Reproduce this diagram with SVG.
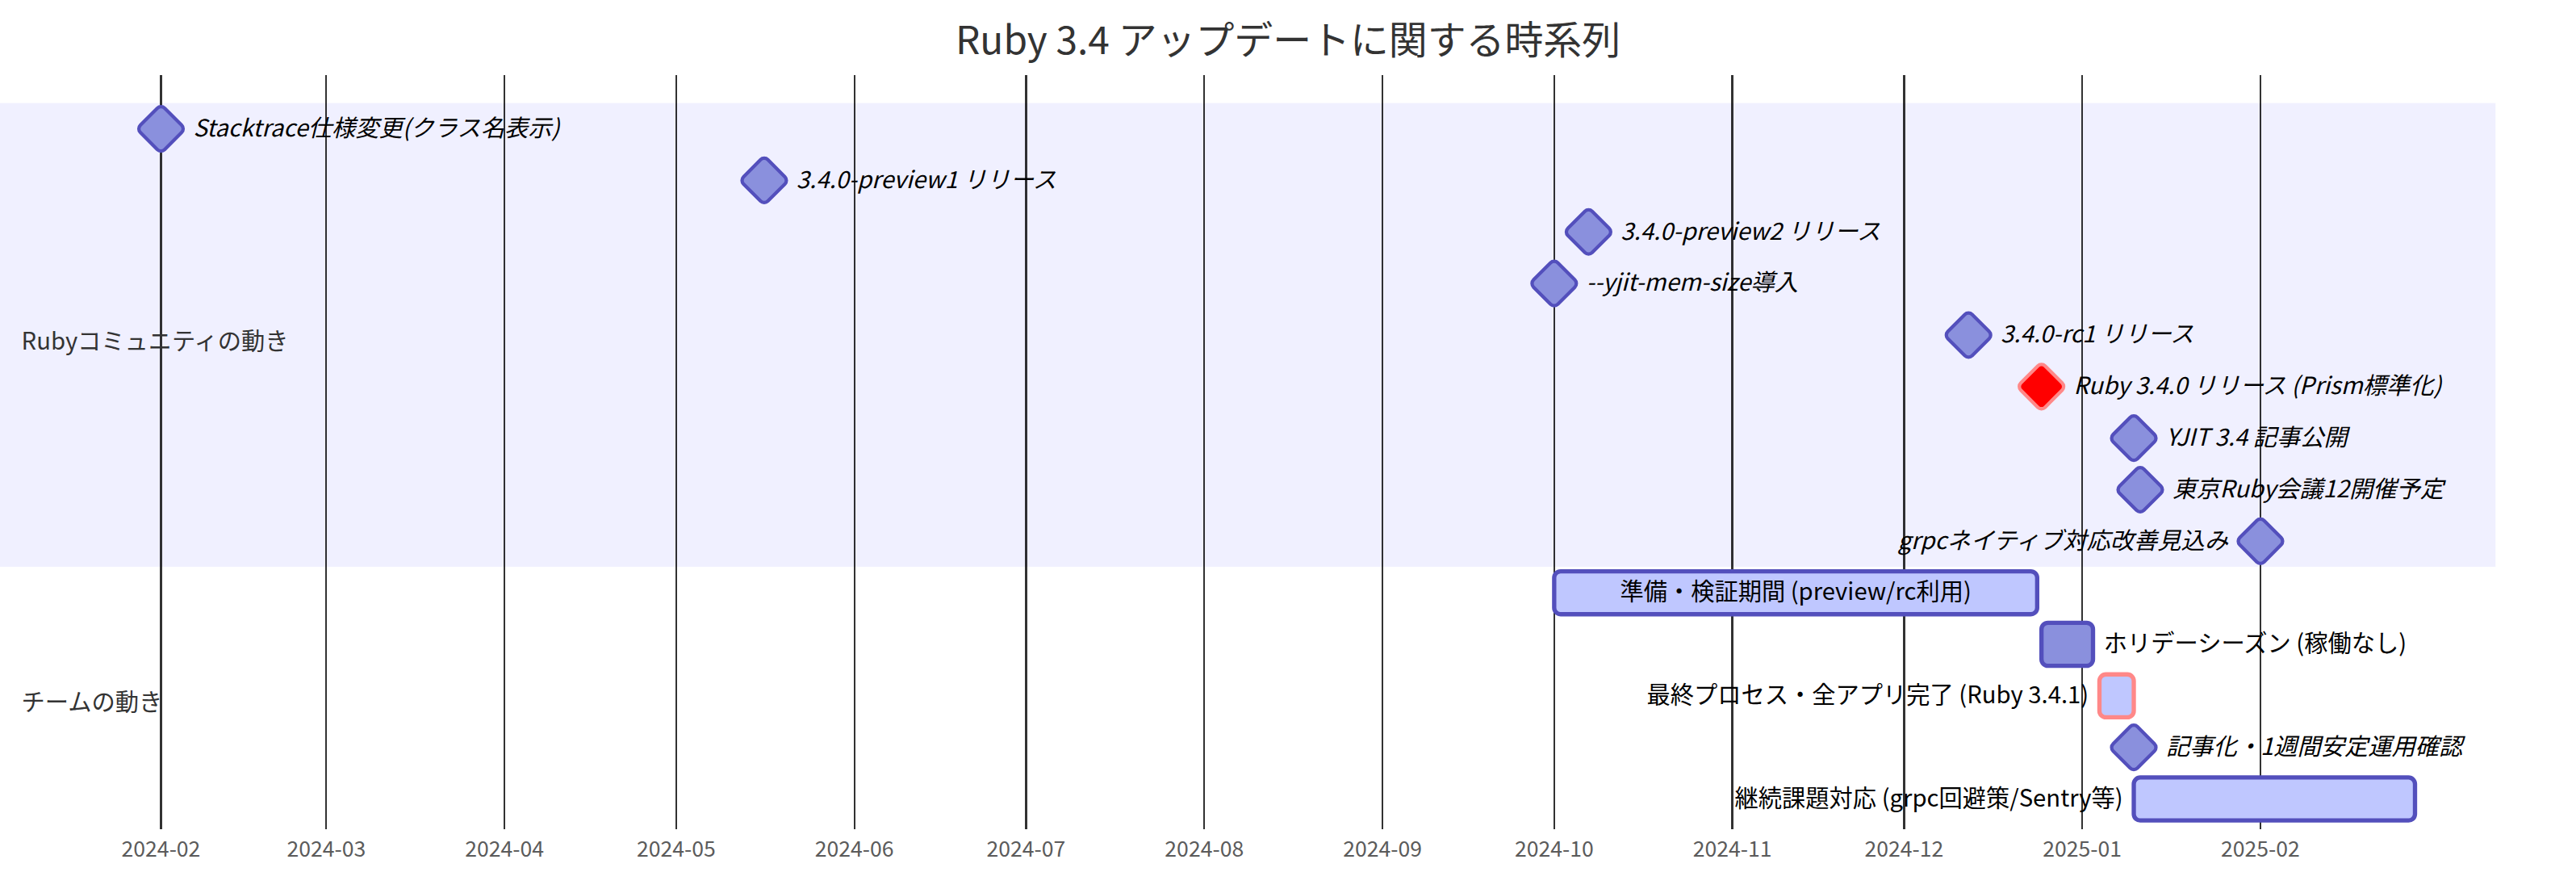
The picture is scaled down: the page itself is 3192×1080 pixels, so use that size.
<svg xmlns="http://www.w3.org/2000/svg" width="3192" height="1080" viewBox="0 0 3192 1080">
<style>
text { font-family: "Noto Sans CJK JP", "Noto Sans", sans-serif; }
.titleText { font-size: 18px; fill: #333; text-anchor: middle; }
.sectionTitle { font-size: 11px; fill: #333; dominant-baseline: central; }
.ticks { opacity: 0.8; }
.ticks line { stroke: #000; stroke-width: 0.85; shape-rendering: crispEdges; }
.ticks text { font-size: 10px; fill: #333; text-anchor: middle; }
.task { stroke-width: 2; }
.normal { fill: #8a90dd; stroke: #534fbc; }
.active { fill: #bfc7ff; stroke: #534fbc; }
.crit { fill: #ff0000; stroke: #ff8888; }
.activeCrit { fill: #bfc7ff; stroke: #ff8888; }
.taskText { font-size: 11px; fill: #000; }
.ms { font-style: italic; }
.start { text-anchor: start; }
.end { text-anchor: end; }
.mid { text-anchor: middle; }
</style>
<defs>
<rect id="diamond" x="-10" y="-10" width="20" height="20" rx="3" ry="3"/>
</defs>
<rect x="0" y="0" width="3192" height="1080" fill="#ffffff"/>
<g transform="scale(2.66)">
  <g id="sections">
    <rect x="0" y="48" width="1162.5" height="216" fill="#f0f0ff"/>
    <rect x="0" y="264" width="1162.5" height="120" fill="#ffffff"/>
  </g>
  <g id="grid" class="ticks">
    <line x1="75" y1="35" x2="75" y2="386"/><text x="75" y="399">2024-02</text>
    <line x1="152" y1="35" x2="152" y2="386"/><text x="152" y="399">2024-03</text>
    <line x1="235" y1="35" x2="235" y2="386"/><text x="235" y="399">2024-04</text>
    <line x1="315" y1="35" x2="315" y2="386"/><text x="315" y="399">2024-05</text>
    <line x1="398" y1="35" x2="398" y2="386"/><text x="398" y="399">2024-06</text>
    <line x1="478" y1="35" x2="478" y2="386"/><text x="478" y="399">2024-07</text>
    <line x1="561" y1="35" x2="561" y2="386"/><text x="561" y="399">2024-08</text>
    <line x1="644" y1="35" x2="644" y2="386"/><text x="644" y="399">2024-09</text>
    <line x1="724" y1="35" x2="724" y2="386"/><text x="724" y="399">2024-10</text>
    <line x1="807" y1="35" x2="807" y2="386"/><text x="807" y="399">2024-11</text>
    <line x1="887" y1="35" x2="887" y2="386"/><text x="887" y="399">2024-12</text>
    <line x1="970" y1="35" x2="970" y2="386"/><text x="970" y="399">2025-01</text>
    <line x1="1053" y1="35" x2="1053" y2="386"/><text x="1053" y="399">2025-02</text>
  </g>
  <g id="connectors"></g>
  <g id="task-stacktrace">
    <use href="#diamond" class="task normal" transform="translate(75,60) rotate(45) scale(0.8)"/>
    <text class="taskText ms start" x="90" y="63.5">Stacktrace仕様変更(クラス名表示)</text>
  </g>
  <g id="task-preview1">
    <use href="#diamond" class="task normal" transform="translate(356,84) rotate(45) scale(0.8)"/>
    <text class="taskText ms start" x="371" y="87.5">3.4.0-preview1 リリース</text>
  </g>
  <g id="task-preview2">
    <use href="#diamond" class="task normal" transform="translate(740,108) rotate(45) scale(0.8)"/>
    <text class="taskText ms start" x="755" y="111.5">3.4.0-preview2 リリース</text>
  </g>
  <g id="task-yjit-mem">
    <use href="#diamond" class="task normal" transform="translate(724,132) rotate(45) scale(0.8)"/>
    <text class="taskText ms start" x="739" y="135.5">--yjit-mem-size導入</text>
  </g>
  <g id="task-rc1">
    <use href="#diamond" class="task normal" transform="translate(917,156) rotate(45) scale(0.8)"/>
    <text class="taskText ms start" x="932" y="159.5">3.4.0-rc1 リリース</text>
  </g>
  <g id="task-ruby340">
    <use href="#diamond" class="task crit" transform="translate(951,180) rotate(45) scale(0.8)"/>
    <text class="taskText ms start" x="966" y="183.5">Ruby 3.4.0 リリース (Prism標準化)</text>
  </g>
  <g id="task-yjit34">
    <use href="#diamond" class="task normal" transform="translate(994,204) rotate(45) scale(0.8)"/>
    <text class="taskText ms start" x="1009" y="207.5">YJIT 3.4 記事公開</text>
  </g>
  <g id="task-tokyorubykaigi">
    <use href="#diamond" class="task normal" transform="translate(997,228) rotate(45) scale(0.8)"/>
    <text class="taskText ms start" x="1012" y="231.5">東京Ruby会議12開催予定</text>
  </g>
  <g id="task-grpc">
    <use href="#diamond" class="task normal" transform="translate(1053,252) rotate(45) scale(0.8)"/>
    <text class="taskText ms end" x="1038" y="255.5">grpcネイティブ対応改善見込み</text>
  </g>
  <g id="task-prep">
    <rect class="task active" x="724" y="266" width="225" height="20" rx="3" ry="3"/>
    <text class="taskText mid" x="836.5" y="279.5">準備・検証期間 (preview/rc利用)</text>
  </g>
  <g id="task-holiday">
    <rect class="task normal" x="951" y="290" width="24" height="20" rx="3" ry="3"/>
    <text class="taskText start" x="980" y="303.5">ホリデーシーズン (稼働なし)</text>
  </g>
  <g id="task-final">
    <rect class="task activeCrit" x="978" y="314" width="16" height="20" rx="3" ry="3"/>
    <text class="taskText end" x="973" y="327.5">最終プロセス・全アプリ完了 (Ruby 3.4.1)</text>
  </g>
  <g id="task-article">
    <use href="#diamond" class="task normal" transform="translate(994,348) rotate(45) scale(0.8)"/>
    <text class="taskText ms start" x="1009" y="351.5">記事化・1週間安定運用確認</text>
  </g>
  <g id="task-followup">
    <rect class="task active" x="994" y="362" width="131" height="20" rx="3" ry="3"/>
    <text class="taskText end" x="989" y="375.5">継続課題対応 (grpc回避策/Sentry等)</text>
  </g>
  <g id="section-titles">
    <text class="sectionTitle" x="10" y="158">Rubyコミュニティの動き</text>
    <text class="sectionTitle" x="10" y="326">チームの動き</text>
  </g>
  <text id="title" class="titleText" x="600" y="25">Ruby 3.4 アップデートに関する時系列</text>
</g>
</svg>
